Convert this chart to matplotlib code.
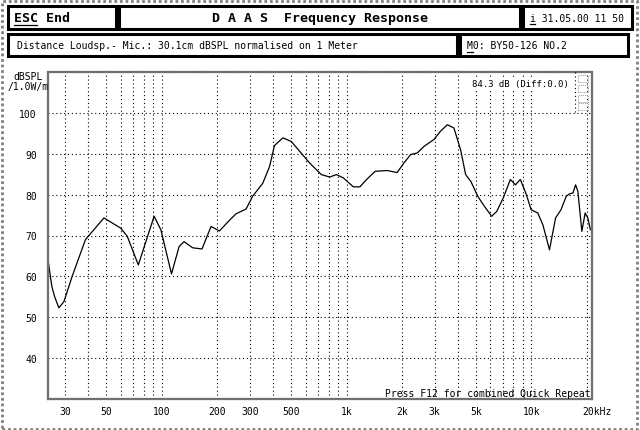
import matplotlib
matplotlib.use("Agg")
import matplotlib.pyplot as plt
from matplotlib.patches import Rectangle
from matplotlib.lines import Line2D

# --- data ---
freq_hz = [24.3, 25.4, 26.3, 27.7, 29.5, 32.7, 38.6, 48.6, 59.9, 65.0,
           74.6, 90.8, 98.8, 112.8, 124, 132, 146.7, 165, 184.6, 205,
           232, 252, 286, 310, 352, 383, 407, 452, 502, 557,
           632, 730, 810, 881, 960, 1088, 1181, 1283, 1428, 1655,
           1877, 2041, 2221, 2414, 2625, 2973, 3222, 3510, 3810, 4140,
           4410, 4710, 5130, 5500, 6100, 6500, 7050, 7700, 8200, 8720,
           9330, 9980, 10840, 11550, 12540, 13530, 14470, 15450, 16100, 16800,
           17360, 17860, 18770, 19550, 20210, 20880]
spl_db = [63.5, 57.5, 55.0, 52.3, 53.8, 60.0, 69.0, 74.3, 71.8, 69.8,
          62.8, 74.7, 71.4, 60.6, 67.3, 68.5, 67.0, 66.7, 72.2, 71.1,
          73.7, 75.3, 76.5, 79.6, 82.8, 86.9, 92.0, 93.9, 93.0, 90.6,
          87.7, 84.9, 84.3, 84.9, 84.1, 81.9, 81.9, 83.7, 85.7, 85.9,
          85.4, 87.7, 89.8, 90.2, 91.8, 93.5, 95.5, 97.1, 96.3, 91.0,
          84.9, 83.2, 79.6, 77.5, 74.7, 75.9, 79.2, 83.7, 82.4, 83.7,
          80.4, 76.3, 75.5, 72.6, 66.5, 74.3, 76.3, 79.6, 80.2, 80.4,
          82.4, 80.8, 71.0, 75.5, 74.3, 71.4]

x_grid = [30, 40, 50, 60, 70, 80, 90, 100, 200, 300, 400, 500, 600, 700, 800, 900,
          1000, 2000, 3000, 4000, 5000, 6000, 7000, 8000, 9000, 10000, 20000]
x_ticks = [30, 50, 100, 200, 300, 500, 1000, 2000, 3000, 5000, 10000]
x_labels = ["30", "50", "100", "200", "300", "500", "1k", "2k", "3k", "5k", "10k"]
y_ticks = [40, 50, 60, 70, 80, 90, 100]

W, H = 640, 431
MONO = "DejaVu Sans Mono"


def fx(x):
    return x / W


def fy(y):
    return 1 - y / H


fig = plt.figure(figsize=(6.4, 4.31), dpi=100)
fig.patch.set_facecolor("white")


def box(x0, y0, x1, y1):
    fig.add_artist(Rectangle((fx(x0), fy(y1)), fx(x1) - fx(x0), fy(y0) - fy(y1),
                             transform=fig.transFigure, fill=False,
                             edgecolor="black", linewidth=2.2))


def underline(x0, x1, y):
    fig.add_artist(Line2D([fx(x0), fx(x1)], [fy(y), fy(y)],
                          transform=fig.transFigure, color="black", linewidth=0.9))


# outer dotted border
fig.add_artist(Rectangle((fx(1.5), fy(429.5)), fx(637) - fx(1.5), fy(1.5) - fy(429.5),
                         transform=fig.transFigure, fill=False, edgecolor="#808080",
                         linewidth=2, linestyle=(0, (1, 1))))

# header boxes
box(8, 7, 116, 30)
box(119, 7, 520, 30)
box(523, 7, 632, 30)
box(8, 35, 457, 57)
box(460, 35, 628, 57)

fig.text(fx(14), fy(18.5), "ESC End", family=MONO, fontsize=9.5, weight="bold",
         ha="left", va="center")
underline(14, 37, 26)
fig.text(fx(320), fy(18.5), "D A A S  Frequency Response", family=MONO, fontsize=9.5,
         weight="bold", ha="center", va="center")
fig.text(fx(530), fy(18.5), "i 31.05.00 11 50", family=MONO, fontsize=7,
         ha="left", va="center")
underline(530, 535, 25)
fig.text(fx(17), fy(46), "Distance Loudsp.- Mic.: 30.1cm dBSPL normalised on 1 Meter",
         family=MONO, fontsize=7, ha="left", va="center")
fig.text(fx(467), fy(46), "M0: BY50-126 NO.2", family=MONO, fontsize=7,
         ha="left", va="center")
underline(467, 473, 53)

# --- main plot ---
ax = fig.add_axes([fx(48), fy(400), fx(592) - fx(48), fy(73) - fy(400)])
ax.plot(freq_hz, spl_db, color="black", linewidth=0.9)
ax.set_xscale("log")
ax.set_xlim(24.2, 21300)
ax.set_ylim(30, 110)

for f in x_grid:
    ax.axvline(f, color="black", linewidth=0.8, linestyle=(0, (1, 2.5)), zorder=0)
for v in y_ticks:
    ax.axhline(v, color="black", linewidth=0.8, linestyle=(0, (1, 2.5)), zorder=0)

ax.set_xticks(x_ticks)
ax.set_xticklabels(x_labels, family=MONO, fontsize=7)
ax.xaxis.set_minor_locator(matplotlib.ticker.NullLocator())
ax.set_yticks(y_ticks)
ax.set_yticklabels([str(v) for v in y_ticks], family=MONO, fontsize=7)
ax.tick_params(length=0, pad=5)
ax.tick_params(axis="y", pad=8)
ax.annotate("20kHz", xy=(20000, 0), xycoords=("data", "axes fraction"),
            xytext=(-3, -5), textcoords="offset points", family=MONO, fontsize=7,
            ha="left", va="top")

for s in ax.spines.values():
    s.set_color("#707070")
    s.set_linewidth(1.6)
    s.set_linestyle((0, (1, 0.6)))

fig.text(fx(28), fy(77), "dBSPL", family=MONO, fontsize=7, ha="center", va="center")
fig.text(fx(28), fy(87), "/1.0W/m", family=MONO, fontsize=7, ha="center", va="center")
fig.text(fx(569), fy(85), "84.3 dB (Diff:0.0)", family=MONO,
         fontsize=6.5, ha="right", va="center",
         bbox=dict(facecolor="white", edgecolor="none", pad=0.5))
ax.text(0.997, 0.003, "Press F12 for combined Quick Repeat", transform=ax.transAxes,
        family=MONO, fontsize=7, ha="right", va="bottom")

# small side panel in the top right corner
fig.add_artist(Line2D([fx(575), fx(575)], [fy(73), fy(113)], transform=fig.transFigure,
                      color="black", linewidth=0.8, linestyle=(0, (1, 2.5))))
for y0 in (76, 86, 96, 104):
    fig.add_artist(Rectangle((fx(578), fy(y0 + 7)), fx(588) - fx(578), fy(y0) - fy(y0 + 7),
                             transform=fig.transFigure, fill=False, edgecolor="#999999",
                             linewidth=0.7, linestyle=(0, (1, 1))))

fig.savefig("out.png", dpi=100)
